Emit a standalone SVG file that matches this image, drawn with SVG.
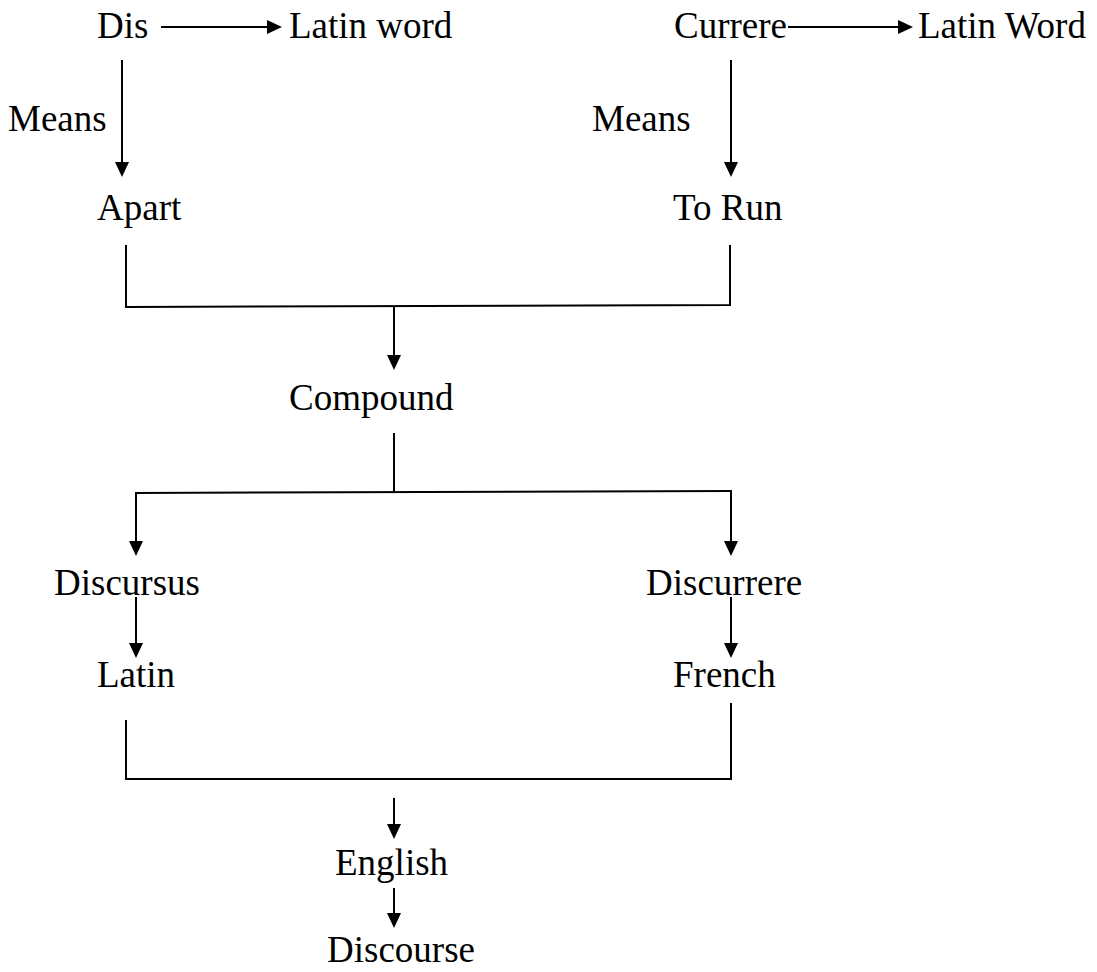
<svg xmlns="http://www.w3.org/2000/svg" width="1097" height="972" viewBox="0 0 1097 972">
<style>
text{font-family:"Liberation Serif","Times New Roman",serif;font-size:37px;fill:#000}
.c{fill:none;stroke:#000;stroke-width:2}
</style>
<defs>
<marker id="ah" markerUnits="userSpaceOnUse" markerWidth="16" markerHeight="14" refX="13" refY="7" orient="auto">
<path d="M0,0 L15,7 L0,14 Z" fill="#000"/>
</marker>
</defs>
<rect width="1097" height="972" fill="#fff"/>
<g id="connectors">
<line class="c" x1="161" y1="27" x2="280" y2="27" marker-end="url(#ah)"/>
<line class="c" x1="788" y1="27" x2="911" y2="27" marker-end="url(#ah)"/>
<line class="c" x1="122" y1="60" x2="122" y2="175" marker-end="url(#ah)"/>
<line class="c" x1="731" y1="60" x2="731" y2="175" marker-end="url(#ah)"/>
<polyline class="c" points="126,245 126,307 730,305 730,245"/>
<line class="c" x1="394" y1="306" x2="394" y2="368" marker-end="url(#ah)"/>
<line class="c" x1="394" y1="433" x2="394" y2="492"/>
<line class="c" x1="135" y1="493" x2="732" y2="491"/>
<line class="c" x1="136" y1="493" x2="136" y2="554" marker-end="url(#ah)"/>
<line class="c" x1="731" y1="491" x2="731" y2="554" marker-end="url(#ah)"/>
<line class="c" x1="136" y1="597" x2="136" y2="656" marker-end="url(#ah)"/>
<line class="c" x1="731" y1="597" x2="731" y2="656" marker-end="url(#ah)"/>
<polyline class="c" points="126,720 126,779 731,779 731,703"/>
<line class="c" x1="394" y1="798" x2="394" y2="837" marker-end="url(#ah)"/>
<line class="c" x1="394" y1="888" x2="394" y2="926" marker-end="url(#ah)"/>
</g>
<g id="dis"><text x="97" y="38">Dis</text></g>
<g id="latin-word-1"><text x="289" y="38">Latin word</text></g>
<g id="currere"><text x="674" y="38">Currere</text></g>
<g id="latin-word-2"><text x="918" y="38">Latin Word</text></g>
<g id="means-1"><text x="8" y="131">Means</text></g>
<g id="means-2"><text x="592" y="131">Means</text></g>
<g id="apart"><text x="97" y="220">Apart</text></g>
<g id="to-run"><text x="673" y="220">To Run</text></g>
<g id="compound"><text x="289" y="410">Compound</text></g>
<g id="discursus"><text x="54" y="595">Discursus</text></g>
<g id="discurrere"><text x="646" y="595">Discurrere</text></g>
<g id="latin"><text x="97" y="687">Latin</text></g>
<g id="french"><text x="673" y="687">French</text></g>
<g id="english"><text x="335" y="875">English</text></g>
<g id="discourse"><text x="327" y="962">Discourse</text></g>
</svg>
